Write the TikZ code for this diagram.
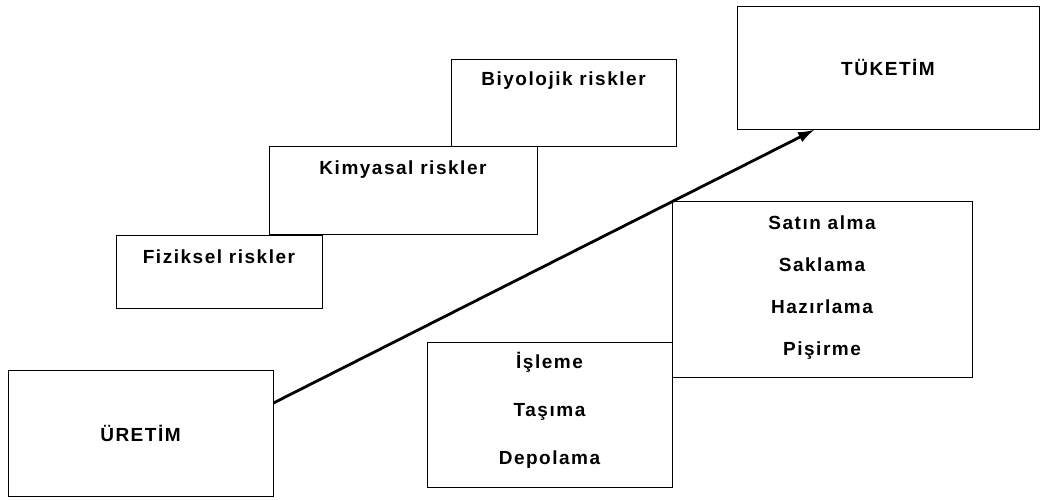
\documentclass[tikz,border=0pt]{standalone}
\usepackage{fontspec}
\setmainfont{Liberation Sans}
\newfontfamily\yazifont[LetterSpace=8]{Liberation Sans}
\usetikzlibrary{arrows.meta}

\begin{document}
\begin{tikzpicture}[x=1pt,y=-1pt]
	\tikzstyle{kt} = [draw,line width=0.9pt,inner sep=0pt,color=black];
	\tikzstyle{yz} = [inner sep=0pt,align=center,font=\yazifont\bfseries\fontsize{19}{23}\selectfont];
	\tikzstyle{ok} = [-{Latex[length=17pt,width=11pt]},line width=2.8pt];
	\useasboundingbox (0,0) rectangle (1041,499);
	\node [kt,yz,minimum width=265pt,minimum height=126pt] (uretim) at (140.5,433) {ÜRETİM};
	\node [kt,yz,minimum width=302pt,minimum height=123pt] (tuketim) at (888,67.5) {TÜKETİM};
	\node [kt,minimum width=206pt,minimum height=73pt] (fiziksel) at (219,271.5) {};
	\node [kt,minimum width=268pt,minimum height=88pt] (kimyasal) at (403,190) {};
	\node [kt,minimum width=225pt,minimum height=87pt] (biyolojik) at (563.5,102.5) {};
	\node [kt,minimum width=245pt,minimum height=145pt] (isleme) at (549.5,414.5) {};
	\node [kt,minimum width=300pt,minimum height=176pt] (satin) at (822,289) {};
	\node [yz,anchor=base] (fizikselyz) at (219,263.5) {Fiziksel riskler};
	\node [yz,anchor=base] (kimyasalyz) at (403,174.5) {Kimyasal riskler};
	\node [yz,anchor=base] (biyolojikyz) at (563.5,85.5) {Biyolojik riskler};
	\node [yz,font=\yazifont\bfseries\fontsize{19}{48}\selectfont] (isleyz) at (549.5,410) {İşleme\\Taşıma\\Depolama};
	\node [yz,font=\yazifont\bfseries\fontsize{19}{42}\selectfont] (satinyz) at (822,288) {Satın alma\\Saklama\\Hazırlama\\Pişirme};
	\draw [ok] ([yshift=30pt]uretim.east) -- ([xshift=-73pt]tuketim.south);
\end{tikzpicture}
\end{document}
